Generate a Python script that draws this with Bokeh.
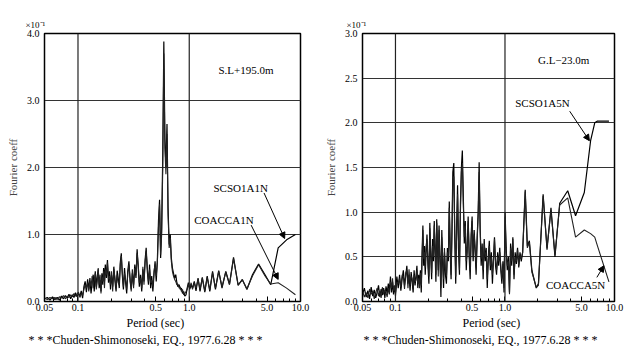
from bokeh.plotting import figure
from bokeh.models import (FixedTicker, Span, Label, Arrow, NormalHead, Range1d,
                          PrintfTickFormatter, Title)
from bokeh.layouts import row
from bokeh.embed import file_html
from bokeh.resources import INLINE

SERIF = "Liberation Serif"

# ---------------- axis ticks ----------------
x_ticks = [0.05, 0.1, 0.5, 1.0, 5.0, 10.0]
x_tick_labels = ["0.05", "0.1", "0.5", "1.0", "5.0", "10.0"]
x_minor = [0.06, 0.07, 0.08, 0.09, 0.2, 0.3, 0.4, 0.6, 0.7, 0.8, 0.9,
           2.0, 3.0, 4.0, 6.0, 7.0, 8.0, 9.0]
y_ticks_left = [0.0, 1.0, 2.0, 3.0, 4.0]
y_ticks_right = [0.0, 0.5, 1.0, 1.5, 2.0, 2.5, 3.0]

# ---------------- left panel: S.L+195.0m ----------------
period_l = [0.050, 0.053, 0.056, 0.059, 0.062, 0.065, 0.068, 0.071, 0.074, 0.077,
            0.080, 0.083, 0.086, 0.089, 0.092, 0.095, 0.098, 0.101, 0.104, 0.107,
            0.110, 0.113, 0.116, 0.119, 0.122, 0.125, 0.128, 0.131, 0.134, 0.137,
            0.140, 0.143, 0.146, 0.149, 0.152, 0.155, 0.158, 0.161, 0.164, 0.167,
            0.170, 0.173, 0.176, 0.180, 0.184, 0.188, 0.192, 0.196, 0.200, 0.205,
            0.210, 0.215, 0.220, 0.225, 0.230, 0.235, 0.240, 0.245, 0.250, 0.256,
            0.262, 0.268, 0.274, 0.280, 0.287, 0.294, 0.301, 0.308, 0.316, 0.324,
            0.332, 0.340, 0.348, 0.356, 0.365, 0.374, 0.383, 0.392, 0.401, 0.410,
            0.420, 0.430, 0.440, 0.450, 0.460, 0.471, 0.482, 0.493, 0.505, 0.517,
            0.529, 0.541, 0.553, 0.565, 0.578, 0.591, 0.604, 0.617, 0.631, 0.645,
            0.660, 0.675, 0.690, 0.706, 0.722, 0.739, 0.756, 0.774, 0.792, 0.811,
            0.830, 0.850, 0.870, 0.891, 0.912, 0.935, 0.958, 0.982, 1.010, 1.040,
            1.070, 1.110, 1.150, 1.200, 1.250, 1.310, 1.380, 1.450, 1.530, 1.620,
            1.720, 1.840, 1.970, 2.130, 2.300, 2.500, 2.750, 3.000, 3.300, 3.700,
            4.200, 4.800, 5.400, 6.300, 7.500, 9.000]
scso1a1n = [0.04, 0.06, 0.02, 0.07, 0.03, 0.06, 0.02, 0.08, 0.04, 0.09,
            0.05, 0.11, 0.04, 0.10, 0.06, 0.13, 0.07, 0.12, 0.08, 0.16,
            0.05, 0.22, 0.30, 0.14, 0.33, 0.18, 0.35, 0.12, 0.28, 0.40,
            0.15, 0.45, 0.22, 0.38, 0.48, 0.20, 0.32, 0.15, 0.42, 0.25,
            0.50, 0.30, 0.55, 0.35, 0.62, 0.28, 0.45, 0.18, 0.40, 0.22,
            0.52, 0.30, 0.15, 0.46, 0.35, 0.20, 0.58, 0.72, 0.40, 0.18,
            0.50, 0.28, 0.12, 0.45, 0.60, 0.30, 0.18, 0.42, 0.25, 0.55,
            0.35, 0.78, 0.50, 0.22, 0.40, 0.15, 0.48, 0.30, 0.62, 0.80,
            0.45, 0.25, 0.55, 0.20, 0.38, 0.15, 0.40, 0.60, 0.30, 0.62,
            1.20, 1.52, 0.65, 1.10, 2.20, 3.88, 2.45, 2.00, 2.65, 1.40,
            0.85, 1.00, 0.65, 0.50, 0.42, 0.35, 0.40, 0.28, 0.22, 0.25,
            0.18, 0.20, 0.12, 0.15, 0.08, 0.10, 0.20, 0.28, 0.18, 0.25,
            0.20, 0.30, 0.16, 0.35, 0.15, 0.36, 0.14, 0.38, 0.15, 0.45,
            0.18, 0.46, 0.20, 0.45, 0.26, 0.66, 0.24, 0.33, 0.18, 0.40,
            0.56, 0.40, 0.25, 0.80, 0.92, 1.00]
coacca1n = [0.05, 0.03, 0.06, 0.04, 0.06, 0.03, 0.07, 0.05, 0.09, 0.04,
            0.08, 0.06, 0.10, 0.07, 0.12, 0.08, 0.11, 0.14, 0.06, 0.12,
            0.09, 0.18, 0.25, 0.20, 0.28, 0.15, 0.30, 0.22, 0.38, 0.20,
            0.33, 0.42, 0.18, 0.30, 0.50, 0.25, 0.40, 0.12, 0.36, 0.30,
            0.45, 0.20, 0.48, 0.40, 0.58, 0.33, 0.38, 0.25, 0.45, 0.15,
            0.48, 0.35, 0.20, 0.40, 0.28, 0.25, 0.55, 0.68, 0.45, 0.22,
            0.42, 0.32, 0.18, 0.40, 0.55, 0.35, 0.15, 0.48, 0.20, 0.50,
            0.40, 0.72, 0.55, 0.28, 0.35, 0.20, 0.52, 0.25, 0.58, 0.75,
            0.50, 0.30, 0.48, 0.28, 0.32, 0.22, 0.45, 0.55, 0.38, 0.58,
            1.10, 1.45, 0.70, 1.00, 2.00, 3.70, 2.30, 1.90, 2.50, 1.30,
            0.80, 0.95, 0.60, 0.45, 0.38, 0.33, 0.30, 0.25, 0.26, 0.20,
            0.22, 0.15, 0.18, 0.10, 0.12, 0.15, 0.18, 0.25, 0.20, 0.28,
            0.18, 0.28, 0.20, 0.33, 0.18, 0.35, 0.16, 0.36, 0.17, 0.43,
            0.20, 0.45, 0.22, 0.44, 0.25, 0.64, 0.25, 0.32, 0.19, 0.38,
            0.55, 0.38, 0.26, 0.28, 0.20, 0.10]

# ---------------- right panel: G.L-23.0m ----------------
period_r = [0.050, 0.052, 0.054, 0.056, 0.058, 0.060, 0.062, 0.064, 0.066, 0.068,
            0.070, 0.072, 0.074, 0.076, 0.078, 0.080, 0.082, 0.084, 0.086, 0.088,
            0.090, 0.092, 0.094, 0.096, 0.098, 0.100, 0.103, 0.106, 0.109, 0.112,
            0.115, 0.118, 0.121, 0.124, 0.127, 0.130, 0.133, 0.136, 0.139, 0.142,
            0.145, 0.148, 0.151, 0.154, 0.157, 0.160, 0.163, 0.166, 0.169, 0.172,
            0.175, 0.178, 0.181, 0.184, 0.187, 0.190, 0.194, 0.198, 0.202, 0.206,
            0.210, 0.214, 0.218, 0.222, 0.226, 0.230, 0.234, 0.238, 0.242, 0.246,
            0.250, 0.255, 0.260, 0.265, 0.270, 0.275, 0.280, 0.286, 0.292, 0.298,
            0.304, 0.310, 0.316, 0.322, 0.328, 0.334, 0.341, 0.348, 0.355, 0.362,
            0.369, 0.376, 0.384, 0.392, 0.400, 0.408, 0.416, 0.425, 0.434, 0.443,
            0.452, 0.461, 0.471, 0.481, 0.491, 0.501, 0.512, 0.523, 0.534, 0.545,
            0.557, 0.569, 0.581, 0.593, 0.606, 0.619, 0.632, 0.646, 0.660, 0.674,
            0.689, 0.704, 0.719, 0.735, 0.751, 0.768, 0.785, 0.802, 0.820, 0.838,
            0.857, 0.876, 0.896, 0.916, 0.937, 0.958, 0.980, 1.002, 1.025, 1.049,
            1.074, 1.099, 1.125, 1.152, 1.180, 1.209, 1.239, 1.270, 1.302, 1.336,
            1.371, 1.408, 1.450, 1.530, 1.600, 1.670, 1.760, 1.930, 2.020, 2.230,
            2.420, 2.630, 2.860, 3.160, 3.740, 4.410, 5.300, 6.050, 6.600, 7.000,
            8.900]
scso1a5n = [0.08, 0.15, 0.05, 0.12, 0.03, 0.16, 0.06, 0.13, 0.04, 0.10,
            0.18, 0.05, 0.14, 0.07, 0.15, 0.04, 0.17, 0.09, 0.20, 0.12,
            0.28, 0.10, 0.22, 0.08, 0.15, 0.10, 0.28, 0.15, 0.30, 0.12,
            0.25, 0.35, 0.18, 0.28, 0.40, 0.20, 0.30, 0.12, 0.33, 0.22,
            0.10, 0.35, 0.18, 0.28, 0.40, 0.15, 0.30, 0.20, 0.35, 0.10,
            0.55, 0.85, 0.40, 0.62, 0.30, 0.52, 0.75, 0.40, 0.20, 0.88,
            0.50, 0.25, 0.70, 0.45, 0.90, 0.55, 0.22, 0.92, 0.60, 0.35,
            0.85, 0.50, 0.05, 0.80, 0.40, 0.15, 0.55, 0.30, 0.20, 0.60,
            0.45, 1.12, 0.55, 0.25, 0.80, 1.45, 1.55, 0.70, 0.20, 0.85,
            1.30, 0.60, 0.30, 1.10, 1.50, 1.69, 1.20, 0.65, 0.90, 0.35,
            0.60, 0.95, 0.50, 0.25, 0.75, 0.95, 0.45, 0.80, 0.55, 0.30,
            0.72, 1.00, 1.56, 0.80, 0.40, 0.65, 0.25, 0.70, 0.45, 0.60,
            0.15, 0.50, 0.68, 0.35, 0.55, 0.20, 0.48, 0.72, 0.40, 0.30,
            0.55, 0.40, 0.60, 0.35, 0.20, 0.45, 0.10, 1.00, 0.60, 0.35,
            0.50, 0.10, 0.65, 0.40, 0.72, 0.25, 0.55, 0.42, 0.60, 0.38,
            0.55, 0.45, 0.55, 1.25, 0.62, 0.68, 0.35, 0.15, 0.20, 1.20,
            0.58, 1.05, 0.50, 1.10, 1.24, 0.96, 1.22, 1.80, 2.00, 2.02,
            2.02]
coacca5n = [0.12, 0.05, 0.10, 0.04, 0.14, 0.08, 0.12, 0.03, 0.10, 0.15,
            0.06, 0.12, 0.04, 0.16, 0.08, 0.13, 0.10, 0.05, 0.15, 0.08,
            0.22, 0.15, 0.26, 0.12, 0.18, 0.06, 0.22, 0.20, 0.26, 0.16,
            0.30, 0.28, 0.14, 0.32, 0.35, 0.15, 0.36, 0.18, 0.28, 0.26,
            0.15, 0.30, 0.22, 0.24, 0.35, 0.20, 0.26, 0.15, 0.32, 0.18,
            0.48, 0.80, 0.48, 0.55, 0.38, 0.60, 0.70, 0.45, 0.28, 0.82,
            0.55, 0.32, 0.62, 0.50, 0.85, 0.60, 0.30, 0.88, 0.65, 0.28,
            0.80, 0.45, 0.15, 0.72, 0.48, 0.25, 0.60, 0.35, 0.28, 0.55,
            0.50, 1.05, 0.60, 0.30, 0.75, 1.35, 1.40, 0.80, 0.28, 0.78,
            1.20, 0.70, 0.35, 1.00, 1.45, 1.55, 1.10, 0.72, 0.85, 0.45,
            0.55, 0.90, 0.55, 0.35, 0.70, 0.90, 0.50, 0.75, 0.60, 0.38,
            0.68, 0.95, 1.45, 0.85, 0.48, 0.60, 0.35, 0.65, 0.50, 0.55,
            0.25, 0.45, 0.62, 0.40, 0.50, 0.30, 0.45, 0.70, 0.45, 0.35,
            0.50, 0.45, 0.55, 0.40, 0.25, 0.42, 0.15, 0.95, 0.55, 0.40,
            0.45, 0.08, 0.60, 0.45, 0.70, 0.30, 0.50, 0.45, 0.58, 0.40,
            0.52, 0.48, 0.55, 1.23, 0.60, 0.66, 0.33, 0.16, 0.18, 1.18,
            0.60, 1.02, 0.52, 1.08, 1.16, 0.72, 0.80, 0.76, 0.72, 0.62,
            0.22]


def make_panel(width, border_left, border_right, period, s1, s2, ymax, yticks,
               unit_offset, period_offset, footer_offset):
    p = figure(width=width, height=346, x_axis_type="log",
               x_range=Range1d(0.05, 10.0), y_range=Range1d(0.0, ymax),
               output_backend="svg", toolbar_location=None,
               min_border_left=border_left, min_border_right=border_right,
               min_border_top=33, min_border_bottom=45,
               background_fill_color="white", border_fill_color="white")
    p.outline_line_color = "black"
    p.outline_line_width = 1.5

    p.line(period, s1, line_color="black", line_width=1.2)
    p.line(period, s2, line_color="#222222", line_width=1.1)

    xa = p.xaxis[0]
    xa.ticker = FixedTicker(ticks=x_ticks, minor_ticks=x_minor)
    xa.major_label_overrides = dict(zip(x_ticks, x_tick_labels))
    xa.major_tick_in = 5
    xa.major_tick_out = 0
    xa.minor_tick_in = 3
    xa.minor_tick_out = 0
    xa.major_label_standoff = 2
    xa.major_label_text_font = SERIF
    xa.major_label_text_font_size = "10px"
    xa.major_label_text_color = "black"
    xa.axis_line_color = "black"

    ya = p.yaxis[0]
    ya.ticker = FixedTicker(ticks=yticks)
    ya.formatter = PrintfTickFormatter(format="%.1f")
    ya.major_tick_in = 0
    ya.major_tick_out = 0
    ya.minor_tick_in = 0
    ya.minor_tick_out = 0
    ya.major_label_standoff = 5
    ya.major_label_text_font = SERIF
    ya.major_label_text_font_size = "10px"
    ya.major_label_text_color = "black"
    ya.axis_label = "Fourier coeff"
    ya.axis_label_text_font = SERIF
    ya.axis_label_text_font_size = "11px"
    ya.axis_label_text_font_style = "normal"
    ya.axis_label_standoff = 5
    ya.axis_line_color = "black"

    p.xgrid.visible = False
    p.ygrid.grid_line_color = "#333333"
    p.ygrid.grid_line_width = 1

    for loc in (0.1, 1.0):
        p.add_layout(Span(location=loc, dimension="height",
                          line_color="#222222", line_width=1.2))

    p.add_layout(Title(text="×10⁻¹", align="left", offset=unit_offset,
                       text_font=SERIF, text_font_size="9px",
                       text_font_style="normal", text_color="black",
                       standoff=8), "above")
    p.add_layout(Title(text="Period (sec)", align="left", offset=period_offset,
                       text_font=SERIF, text_font_size="12px",
                       text_font_style="normal", text_color="black",
                       standoff=1), "below")
    p.add_layout(Title(text="* * *Chuden-Shimonoseki, EQ., 1977.6.28 * * *",
                       align="left", offset=footer_offset,
                       text_font=SERIF, text_font_size="12px",
                       text_font_style="normal", text_color="black",
                       standoff=0), "below")
    return p


def note(p, x, y, txt, size="11px"):
    p.add_layout(Label(x=x, y=y, text=txt, text_font=SERIF, text_font_size=size,
                       text_color="black", text_baseline="middle"))


def pointer(p, x0, y0, x1, y1):
    p.add_layout(Arrow(x_start=x0, y_start=y0, x_end=x1, y_end=y1,
                       line_color="black", line_width=1,
                       end=NormalHead(size=6, fill_color="black", line_color="black")))


# left
p1 = make_panel(316, 44, 16, period_l, scso1a1n, coacca1n, 4.0, y_ticks_left,
                -19, 82, -16)
note(p1, 1.83, 3.45, "S.L+195.0m")
note(p1, 1.65, 1.70, "SCSO1A1N")
note(p1, 1.11, 1.22, "COACCA1N")
pointer(p1, 4.7, 1.62, 7.2, 0.94)
pointer(p1, 3.6, 1.14, 6.3, 0.33)

# right
p2 = make_panel(309, 46, 11, period_r, scso1a5n, coacca5n, 3.0, y_ticks_right,
                -16, 100, 1)
note(p2, 2.0, 2.70, "G.L−23.0m")
note(p2, 1.24, 2.22, "SCSO1A5N")
note(p2, 2.37, 0.18, "COACCA5N")
pointer(p2, 3.9, 2.13, 5.9, 1.80)
pointer(p2, 6.9, 0.27, 8.0, 0.40)

layout = row(p1, p2)
open("out.html", "w").write(file_html(layout, INLINE))
